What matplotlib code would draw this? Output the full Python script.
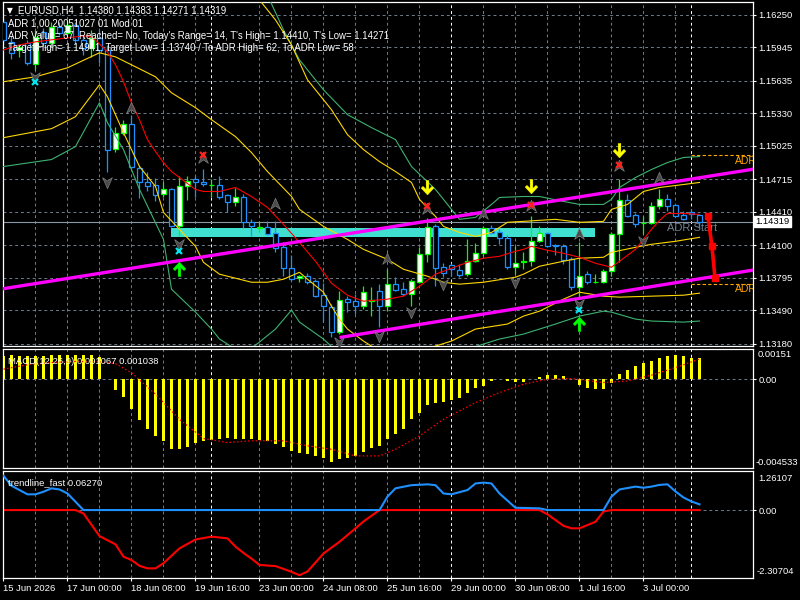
import numpy as np
import matplotlib
matplotlib.use("Agg")
import matplotlib.pyplot as plt
import matplotlib.transforms as mtransforms
from matplotlib.path import Path

plt.rcParams['font.family'] = ['Liberation Sans', 'DejaVu Sans']

# ---- price bars (EURUSD H4) ----
opens = [1.16182, 1.15996, 1.15921, 1.15987, 1.15791, 1.16089, 1.15987, 1.16136, 1.16080, 1.16154,
         1.16015, 1.15940, 1.16033, 1.15921, 1.15000, 1.15149, 1.15233, 1.14823, 1.14693, 1.14656,
         1.14572, 1.14619, 1.14274, 1.14647, 1.14712, 1.14693, 1.14656, 1.14665, 1.14563, 1.14498,
         1.14544, 1.14312, 1.14256, 1.14265, 1.14209, 1.14079, 1.13883, 1.13790, 1.13809, 1.13763,
         1.13632, 1.13521, 1.13288, 1.13595, 1.13576, 1.13530, 1.13576, 1.13669, 1.13530, 1.13735,
         1.13688, 1.13641, 1.13753, 1.14014, 1.14274, 1.13893, 1.13911, 1.13865, 1.13828, 1.13949,
         1.14023, 1.14256, 1.14218, 1.14163, 1.13893, 1.13939, 1.13949, 1.14135, 1.14209, 1.14098,
         1.14088, 1.13967, 1.13707, 1.13828, 1.13753, 1.13753, 1.13856, 1.14200, 1.14516, 1.14377,
         1.14302, 1.14302, 1.14461, 1.14526, 1.14470, 1.14377, 1.14405, 1.14380]
highs = [1.16219, 1.16052, 1.15968, 1.16015, 1.16108, 1.16126, 1.16182, 1.16182, 1.16201, 1.16182,
         1.16052, 1.16108, 1.16108, 1.15968, 1.15205, 1.15270, 1.15317, 1.14851, 1.14777, 1.14730,
         1.14684, 1.14628, 1.14740, 1.14749, 1.14749, 1.14805, 1.14712, 1.14740, 1.14581, 1.14637,
         1.14572, 1.14340, 1.14312, 1.14321, 1.14321, 1.14125, 1.14004, 1.13818, 1.13837, 1.13781,
         1.13744, 1.13549, 1.13669, 1.13623, 1.13641, 1.13716, 1.13707, 1.13735, 1.13874, 1.13800,
         1.13753, 1.13781, 1.14079, 1.14349, 1.14293, 1.13930, 1.13930, 1.13921, 1.14153, 1.14116,
         1.14274, 1.14284, 1.14246, 1.14190, 1.14088, 1.14032, 1.14367, 1.14274, 1.14218, 1.14107,
         1.14107, 1.13986, 1.14125, 1.13856, 1.13828, 1.13874, 1.14218, 1.14721, 1.14581, 1.14395,
         1.14367, 1.14498, 1.14619, 1.14572, 1.14479, 1.14414, 1.14433, 1.14383]
lows = [1.15987, 1.15838, 1.15856, 1.15782, 1.15735, 1.15959, 1.15949, 1.16061, 1.16061, 1.15977,
        1.15875, 1.15856, 1.15801, 1.14777, 1.14972, 1.15130, 1.14805, 1.14535, 1.14600, 1.14507,
        1.14553, 1.14265, 1.14181, 1.14516, 1.14553, 1.14647, 1.14553, 1.14526, 1.14405, 1.14461,
        1.14256, 1.14181, 1.14218, 1.14190, 1.14032, 1.13809, 1.13763, 1.13753, 1.13735, 1.13614,
        1.13381, 1.13241, 1.13269, 1.13474, 1.13455, 1.13502, 1.13437, 1.13334, 1.13483, 1.13669,
        1.13623, 1.13530, 1.13744, 1.13939, 1.13716, 1.13800, 1.13809, 1.13800, 1.13809, 1.13939,
        1.13995, 1.14200, 1.14107, 1.13874, 1.13828, 1.13874, 1.13902, 1.14125, 1.14079, 1.14004,
        1.13921, 1.13679, 1.13614, 1.13735, 1.13744, 1.13744, 1.13809, 1.13939, 1.14358, 1.14265,
        1.14200, 1.14293, 1.14433, 1.14414, 1.14367, 1.14330, 1.14340, 1.14271]
closes = [1.16015, 1.15894, 1.15949, 1.15801, 1.16042, 1.15987, 1.16136, 1.16080, 1.16154, 1.16015,
          1.15940, 1.16033, 1.15921, 1.14991, 1.15149, 1.15233, 1.14832, 1.14684, 1.14647, 1.14563,
          1.14619, 1.14274, 1.14647, 1.14702, 1.14684, 1.14674, 1.14665, 1.14553, 1.14498, 1.14544,
          1.14312, 1.14274, 1.14265, 1.14200, 1.14070, 1.13883, 1.13781, 1.13809, 1.13753, 1.13623,
          1.13530, 1.13288, 1.13586, 1.13567, 1.13530, 1.13660, 1.13586, 1.13530, 1.13735, 1.13679,
          1.13641, 1.13763, 1.14014, 1.14265, 1.13883, 1.13837, 1.13874, 1.13818, 1.13949, 1.14023,
          1.14256, 1.14209, 1.14163, 1.13893, 1.13930, 1.13949, 1.14135, 1.14209, 1.14088, 1.14088,
          1.13958, 1.13707, 1.13809, 1.13753, 1.13755, 1.13856, 1.14200, 1.14516, 1.14367, 1.14293,
          1.14305, 1.14461, 1.14526, 1.14461, 1.14367, 1.14340, 1.14386, 1.14319]

# ---- indicator lines on the price chart (bar index, price) ----
ma_idx = [0, 2, 4, 6, 8, 10, 11, 12, 13, 14, 15, 16, 17, 18, 19, 20, 21, 22, 23, 24, 25, 27, 29, 31,
          33, 35, 37, 39, 41, 43, 45, 48, 50, 52, 54, 56, 58, 60, 62, 64, 65, 66, 68, 70, 72, 74, 76,
          77, 78, 79, 80, 81, 82, 83, 85, 87]
ma_val = [1.15921, 1.15968, 1.15996, 1.16015, 1.16033, 1.16052, 1.16042, 1.15977, 1.15903, 1.15782,
          1.15624, 1.15428, 1.15270, 1.15084, 1.14972, 1.14870, 1.14786, 1.14730, 1.14674, 1.14619,
          1.14600, 1.14600, 1.14637, 1.14553, 1.14451, 1.14293, 1.14125, 1.13949, 1.13744, 1.13632,
          1.13576, 1.13595, 1.13623, 1.13716, 1.13828, 1.13883, 1.13939, 1.13977, 1.13995, 1.14042,
          1.14060, 1.14088, 1.14051, 1.14023, 1.13986, 1.13930, 1.13893, 1.13949, 1.14004, 1.14060,
          1.14153, 1.14246, 1.14330, 1.14395, 1.14395, 1.14386]
slow_idx = [0, 4, 8, 12, 14, 16, 19, 21, 24, 26, 29, 31, 33, 36, 37, 40, 43, 45, 48, 50, 53, 55, 57,
            60, 64, 65, 67, 70, 72, 75, 76, 79, 81, 84, 87]
slow_val = [1.15624, 1.15670, 1.15754, 1.15894, 1.15856, 1.15782, 1.15670, 1.15521, 1.15382, 1.15270,
            1.15112, 1.14963, 1.14786, 1.14554, 1.14433, 1.14274, 1.14153, 1.14060, 1.13967, 1.13874,
            1.13809, 1.13753, 1.13735, 1.13753, 1.13800, 1.13828, 1.13902, 1.13949, 1.13977, 1.13986,
            1.14032, 1.14079, 1.14107, 1.14135, 1.14172]
bb_up_idx = [31, 34, 36, 38, 41, 43, 45, 47, 49, 51, 52, 54, 55, 57, 59, 61, 63, 65, 69, 72, 75, 76,
             78, 80, 82, 85, 87]
bb_up_val = [1.16480, 1.16201, 1.15968, 1.15642, 1.15363, 1.15130, 1.14991, 1.14879, 1.14786, 1.14684,
             1.14526, 1.14367, 1.14274, 1.14218, 1.14181, 1.14218, 1.14312, 1.14321, 1.14340, 1.14312,
             1.14321, 1.14433, 1.14479, 1.14600, 1.14637, 1.14665, 1.14684]
bb_lo_idx = [0, 6, 9, 12, 13, 15, 17, 19, 20, 22, 24, 25, 27, 31, 33, 35, 37, 38, 40, 41, 42, 43, 45,
             47, 52, 56, 59, 63, 65, 67, 70, 72, 75, 77, 81, 85, 87]
bb_lo_val = [1.15102, 1.15186, 1.15298, 1.15596, 1.15484, 1.15149, 1.14833, 1.14647, 1.14405, 1.14246,
             1.14088, 1.13939, 1.13828, 1.13753, 1.13753, 1.13781, 1.13846, 1.13781, 1.13660, 1.13530,
             1.13409, 1.13316, 1.13204, 1.13111, 1.13111, 1.13204, 1.13316, 1.13363, 1.13437, 1.13483,
             1.13595, 1.13660, 1.13623, 1.13614, 1.13623, 1.13632, 1.13651]
env_up_idx = [33, 35, 37, 40, 43, 46, 49, 51, 54, 56, 57, 59, 61, 62, 65, 67, 70, 72, 75, 76, 77, 79,
              81, 83, 85, 87]
env_up_val = [1.16433, 1.16108, 1.15828, 1.15549, 1.15317, 1.15196, 1.15084, 1.14833, 1.14619, 1.14433,
              1.14340, 1.14358, 1.14479, 1.14544, 1.14553, 1.14553, 1.14507, 1.14479, 1.14479, 1.14526,
              1.14637, 1.14730, 1.14805, 1.14870, 1.14917, 1.14926]
env_lo_idx = [0, 6, 9, 12, 13, 15, 17, 20, 21, 24, 26, 27, 30, 32, 34, 36, 37, 40, 42, 52, 58, 62, 65,
              69, 72, 75, 76, 79, 81, 85, 87]
env_lo_val = [1.14833, 1.14898, 1.15019, 1.15428, 1.15242, 1.14991, 1.14619, 1.14153, 1.13688, 1.13474,
              1.13316, 1.13223, 1.13083, 1.13195, 1.13316, 1.13493, 1.13381, 1.13223, 1.13083, 1.13036,
              1.13129, 1.13223, 1.13269, 1.13363, 1.13437, 1.13483, 1.13474, 1.13409, 1.13391, 1.13381,
              1.13391]

# ---- objects ----
chan_up = [(0, 1.13693), (87, 1.14728)]
chan_lo = [(42, 1.13237), (87, 1.13785)]
zone = (21, 74, 1.14171, 1.14260)
bid = 1.14319
adr_high, adr_low = 1.14941, 1.13740
adr_proj_x = [88.06, 88.56, 88.94]
adr_proj_y = [1.14367, 1.14088, 1.13790]

frac_up_i = [16, 25, 34, 48, 53, 60, 66, 72, 77, 82]
frac_up_p = [1.15382, 1.14916, 1.14479, 1.13967, 1.14433, 1.14386, 1.14461, 1.14200, 1.14833, 1.14730]
frac_dn_i = [4, 13, 22, 42, 47, 51, 55, 64, 72, 80]
frac_dn_p = [1.15670, 1.14693, 1.14107, 1.13195, 1.13251, 1.13474, 1.13735, 1.13753, 1.13549, 1.14135]
red_x_i = [25, 53, 66, 77]
red_x_p = [1.14944, 1.14461, 1.14470, 1.14851]
cyan_x_i = [4, 22, 72]
cyan_x_p = [1.15624, 1.14042, 1.13493]
sell_i = [53, 66, 77]
sell_p = [1.14619, 1.14637, 1.14972]
buy_i = [22, 72]
buy_p = [1.13893, 1.13381]

price_ticks = [1.16250, 1.15945, 1.15635, 1.15330, 1.15025, 1.14715, 1.14410, 1.14100, 1.13795,
               1.13490, 1.13180]

# ---- MACD(12,26,9) ----
macd_hist = [0.00121, 0.00124, 0.00121, 0.00121, 0.00121, 0.00121, 0.00124, 0.00124, 0.00124, 0.00124,
             0.00124, 0.00124, 0.00117, 0.00003, -0.00055, -0.00090, -0.00155, -0.00212, -0.00258, -0.00293,
             -0.00318, -0.00358, -0.00358, -0.00348, -0.00327, -0.00318, -0.00313, -0.00310, -0.00306, -0.00310,
             -0.00310, -0.00310, -0.00313, -0.00318, -0.00336, -0.00348, -0.00370, -0.00379, -0.00387, -0.00399,
             -0.00405, -0.00430, -0.00410, -0.00405, -0.00396, -0.00375, -0.00353, -0.00344, -0.00310, -0.00284,
             -0.00255, -0.00207, -0.00172, -0.00134, -0.00124, -0.00117, -0.00107, -0.00095, -0.00069, -0.00043,
             -0.00034, -0.00009, 0.00002, -0.00009, -0.00014, -0.00014, 0.00002, 0.00009, 0.00022, 0.00024,
             0.00017, 0.00003, -0.00031, -0.00043, -0.00048, -0.00052, -0.00017, 0.00026, 0.00048, 0.00069,
             0.00083, 0.00095, 0.00112, 0.00121, 0.00124, 0.00121, 0.00112, 0.00107]
sig_idx = [0, 3, 6, 9, 12, 14, 16, 19, 22, 25, 28, 31, 35, 38, 41, 44, 47, 49, 52, 55, 59, 62, 65, 68,
           71, 75, 78, 81, 84, 87]
sig_val = [0.00052, 0.00075, 0.00086, 0.00092, 0.00090, 0.00080, 0.00034, -0.00077, -0.00207, -0.00306,
           -0.00327, -0.00318, -0.00318, -0.00344, -0.00362, -0.00396, -0.00396, -0.00362, -0.00293,
           -0.00207, -0.00121, -0.00069, -0.00026, 0.00000, 0.00003, -0.00017, -0.00009, 0.00021,
           0.00060, 0.00104]

# ---- trendline_fast ----
tf_up_idx = [0, 1, 3, 4, 5, 6, 7, 8, 10, 47, 48, 49, 51, 53, 54, 55, 56, 58, 59, 60, 61, 62, 64, 67,
             68, 75, 76, 77, 79, 80, 81, 82, 83, 84, 85, 86, 87]
tf_up_val = [1.20, 0.85, 0.55, 0.55, 0.64, 0.76, 0.72, 0.58, 0.0, 0.0, 0.47, 0.76, 0.87, 0.90, 0.87,
             0.58, 0.55, 0.70, 0.93, 0.96, 0.93, 0.58, 0.08, 0.06, 0.0, 0.0, 0.47, 0.72, 0.82, 0.78,
             0.82, 0.88, 0.90, 0.65, 0.44, 0.30, 0.20]
tf_dn_idx = [0, 9, 10, 12, 14, 15, 16, 17, 18, 19, 20, 22, 24, 26, 28, 29, 30, 31, 32, 34, 36, 37, 38,
             40, 42, 44, 45, 47, 67, 68, 70, 71, 72, 74, 75, 76, 87]
tf_dn_val = [0.0, 0.0, -0.12, -0.91, -1.20, -1.63, -1.75, -1.95, -2.04, -2.04, -1.86, -1.34, -1.03,
             -0.93, -0.99, -1.28, -1.50, -1.70, -1.92, -1.96, -2.16, -2.28, -2.15, -1.52, -1.11, -0.64,
             -0.40, 0.0, 0.0, -0.15, -0.55, -0.64, -0.64, -0.41, -0.05, 0.0, 0.0]

time_ticks = [0, 8, 16, 24, 32, 40, 48, 56, 64, 72, 80]
time_labels = ['15 Jun 2026', '17 Jun 00:00', '18 Jun 08:00', '19 Jun 16:00', '23 Jun 00:00',
               '24 Jun 08:00', '25 Jun 16:00', '29 Jun 00:00', '30 Jun 08:00', '1 Jul 16:00',
               '3 Jul 00:00']
week_starts = [26, 56, 86]
grid_bars = [4, 8, 12, 16, 20, 24, 32, 36, 40, 44, 48, 52, 60, 64, 68, 72, 76, 80, 84]

# ---- colours ----
BG = 'black'
GRID = '#6f7d8c'
BULL = '#00ff00'
BEAR = '#1e90ff'
FS = 6.8

W, H = 800, 600
fig = plt.figure(figsize=(W / 100, H / 100), dpi=100, facecolor=BG)


def px_rect(x0, y0, x1, y1):
    return [x0 / W, 1 - y1 / H, (x1 - x0) / W, (y1 - y0) / H]


ax = fig.add_axes(px_rect(3, 2, 753, 346))
ax_m = fig.add_axes(px_rect(3, 349, 753, 468), sharex=ax)
ax_t = fig.add_axes(px_rect(3, 471, 753, 578), sharex=ax)

for a in (ax, ax_m, ax_t):
    a.set_facecolor(BG)
    for s in a.spines.values():
        s.set_color('white')
        s.set_linewidth(0.9)
    a.yaxis.tick_right()
    a.tick_params(axis='y', colors='white', labelcolor='white', labelsize=FS, length=2, pad=2)
    a.tick_params(axis='x', bottom=False, labelbottom=False)
    for i in grid_bars:
        a.axvline(i, color=GRID, lw=0.7, ls=(0, (3, 3)), zorder=0.5)
    for i in week_starts:
        a.axvline(i, color='white', lw=0.7, ls=(0, (3, 3)), zorder=0.6)

ax.set_xlim(-0.06, 93.69)

# ---- main chart ----
ax.set_ylim(1.13158, 1.16368)
ax.set_yticks(price_ticks)
ax.set_yticklabels(['%.5f' % p for p in price_ticks])
for p in price_ticks:
    ax.axhline(p, color=GRID, lw=0.7, ls=(0, (3, 3)), zorder=0.5)

ax.add_patch(plt.Rectangle((zone[0], zone[2]), zone[1] - zone[0], zone[3] - zone[2],
                           facecolor='#40e0d0', edgecolor='none', zorder=1))
ax.axhline(bid, color='#8896a6', lw=0.8, zorder=1.2)

o = np.array(opens)
h = np.array(highs)
l = np.array(lows)
c = np.array(closes)
x = np.arange(len(o))
up = c >= o
body_lo = np.minimum(o, c)
body_h = np.maximum(np.abs(c - o), 0.000008)
ax.vlines(x[up], l[up], h[up], color=BULL, lw=0.9, zorder=2)
ax.vlines(x[~up], l[~up], h[~up], color=BEAR, lw=0.9, zorder=2)
ax.bar(x[up], body_h[up], bottom=body_lo[up], width=0.58, facecolor='white',
       edgecolor=BULL, lw=0.9, zorder=3)
ax.bar(x[~up], body_h[~up], bottom=body_lo[~up], width=0.58, facecolor='black',
       edgecolor=BEAR, lw=0.9, zorder=3)

ax.plot(env_up_idx, env_up_val, color='#3cb371', lw=0.8, zorder=4)
ax.plot(env_lo_idx, env_lo_val, color='#3cb371', lw=0.8, zorder=4)
ax.plot(bb_up_idx, bb_up_val, color='#ffd700', lw=0.8, zorder=4)
ax.plot(bb_lo_idx, bb_lo_val, color='#ffd700', lw=0.8, zorder=4)
ax.plot(slow_idx, slow_val, color='#ffd700', lw=0.8, zorder=4)
ax.plot(ma_idx, ma_val, color='#ff0000', lw=0.8, zorder=4)

# channel lines
ax.axline(chan_up[0], chan_up[1], color='#ff00ff', lw=2.4, zorder=5)
(x0, y0), (x1, y1) = chan_lo
slope = (y1 - y0) / (x1 - x0)
ax.plot([x0, 95], [y0, y0 + slope * (95 - x0)], color='#ff00ff', lw=2.4, zorder=5,
        solid_capstyle='butt')

# ADR levels
for lvl in (adr_high, adr_low):
    ax.plot([86, 95], [lvl, lvl], color='#ffa500', lw=0.8, ls=(0, (3, 2)), zorder=5)
    ax.text(91.4, lvl - 0.00006, 'ADR', color='#ffa500', fontsize=7.5, va='top', ha='left',
            clip_on=True, zorder=5)
ax.text(83.0, 1.14258, 'ADR Start', color='#708090', fontsize=8, va='center', ha='left', zorder=6)
ax.plot(adr_proj_x, adr_proj_y, color='#ff0000', lw=2.6, marker='s', markersize=4.5, zorder=6)

# signal markers
frac_up_path = Path([(0, 0.9), (0.7, -0.7), (0, -0.2), (-0.7, -0.7), (0, 0.9)], closed=True)
frac_dn_path = Path([(0, -0.9), (0.7, 0.7), (0, 0.2), (-0.7, 0.7), (0, -0.9)], closed=True)
arrow_dn = [(-0.15, 1.0), (0.15, 1.0), (0.15, 0.0), (0.5, 0.35), (0.7, 0.15), (0.0, -0.6),
            (-0.7, 0.15), (-0.5, 0.35), (-0.15, 0.0), (-0.15, 1.0)]
arrow_dn_path = Path(arrow_dn, closed=True)
arrow_up_path = Path([(px, -py) for px, py in arrow_dn], closed=True)

ax.plot(frac_up_i, frac_up_p, ls='none', marker=frac_up_path, markersize=9,
        markerfacecolor='#4a4a4a', markeredgecolor='#7a7a7a', markeredgewidth=0.5, zorder=6)
ax.plot(frac_dn_i, frac_dn_p, ls='none', marker=frac_dn_path, markersize=9,
        markerfacecolor='#4a4a4a', markeredgecolor='#7a7a7a', markeredgewidth=0.5, zorder=6)
ax.plot(red_x_i, red_x_p, ls='none', marker='x', markersize=4.5, markeredgewidth=1.6,
        color='#ff2020', zorder=7)
ax.plot(cyan_x_i, cyan_x_p, ls='none', marker='x', markersize=4.5, markeredgewidth=1.6,
        color='#00e5ee', zorder=7)
ax.plot(sell_i, sell_p, ls='none', marker=arrow_dn_path, markersize=13,
        markerfacecolor='#ffff00', markeredgecolor='#ffff00', markeredgewidth=0.3, zorder=7)
ax.plot(buy_i, buy_p, ls='none', marker=arrow_up_path, markersize=13,
        markerfacecolor='#00ff00', markeredgecolor='#00ff00', markeredgewidth=0.3, zorder=7)

blend = mtransforms.blended_transform_factory(ax.transAxes, ax.transData)
ax.text(1.0027, bid, '%.5f' % bid, transform=blend, color='black', fontsize=FS, va='center',
        ha='left', bbox=dict(boxstyle='square,pad=0.15', facecolor='white', edgecolor='white'),
        zorder=8, clip_on=False)

# ---- MACD panel ----
ax_m.set_ylim(-0.004585, 0.00156)
ax_m.bar(x, macd_hist, width=0.38, color='#ffff00', zorder=2)
ax_m.plot(sig_idx, sig_val, color='#ff0000', lw=0.9, ls=(0, (1.2, 1.8)), zorder=3)
ax_m.axhline(0, color=GRID, lw=0.7, ls=(0, (3, 3)), zorder=0.5)
ax_m.set_yticks([0])
ax_m.set_yticklabels(['0.00'])
bm = mtransforms.blended_transform_factory(ax_m.transAxes, ax_m.transData)
ax_m.text(1.0067, 0.00151, '0.00151', transform=bm, color='white', fontsize=FS, va='top', ha='left')
ax_m.text(1.004, -0.004533, '-0.004533', transform=bm, color='white', fontsize=FS, va='bottom',
          ha='left')
ax_m.text(0.007, 0.93, 'MACD(12,26,9) 0.001067 0.001038', transform=ax_m.transAxes, color='white',
          fontsize=FS, va='top', ha='left', zorder=5)

# ---- trendline_fast panel ----
ax_t.set_ylim(-2.377, 1.366)
ax_t.axhline(0, color=GRID, lw=0.7, ls=(0, (3, 3)), zorder=0.5)
ax_t.plot(tf_dn_idx, tf_dn_val, color='#ff0000', lw=1.5, zorder=2)
ax_t.plot(tf_up_idx, tf_up_val, color='#1e90ff', lw=1.5, zorder=3)
ax_t.set_yticks([0])
ax_t.set_yticklabels(['0.00'])
bt = mtransforms.blended_transform_factory(ax_t.transAxes, ax_t.transData)
ax_t.text(1.0067, 1.26107, '1.26107', transform=bt, color='white', fontsize=FS, va='top', ha='left')
ax_t.text(1.0045, -2.30704, '-2.30704', transform=bt, color='white', fontsize=FS, va='bottom',
          ha='left')
ax_t.text(0.007, 0.93, 'trendline_fast 0.06270', transform=ax_t.transAxes, color='white',
          fontsize=FS, va='top', ha='left', zorder=5)
ax_t.set_xticks(time_ticks)
ax_t.set_xticklabels(time_labels)
ax_t.tick_params(axis='x', bottom=True, labelbottom=True, colors='white', labelcolor='white',
                 labelsize=FS, length=2, pad=2)
for lab in ax_t.get_xticklabels():
    lab.set_horizontalalignment('left')

# ---- header text ----
fig.text(7 / W, 1 - 10.5 / H, '\u25bc', color='white', fontsize=5.5, va='center', ha='left',
         family='DejaVu Sans')
header = [
    (18, 10.7, 'EURUSD,H4  1.14380 1.14383 1.14271 1.14319'),
    (8, 24, 'ADR 1,00 20051027 01 Mod 01'),
    (8, 35.7, "ADR Value= 67, Reached= No, Today's Range= 14, T's High= 1.14410, T's Low= 1.14271"),
    (8, 47.7, 'Target High= 1.14941, Target Low= 1.13740 / To ADR High= 62, To ADR Low= 58'),
]
for hx, hy, s in header:
    fig.text(hx / W, 1 - hy / H, s, color='white', fontsize=6.9, va='center', ha='left', zorder=10)

fig.savefig('out.png', dpi=100, facecolor=BG)
